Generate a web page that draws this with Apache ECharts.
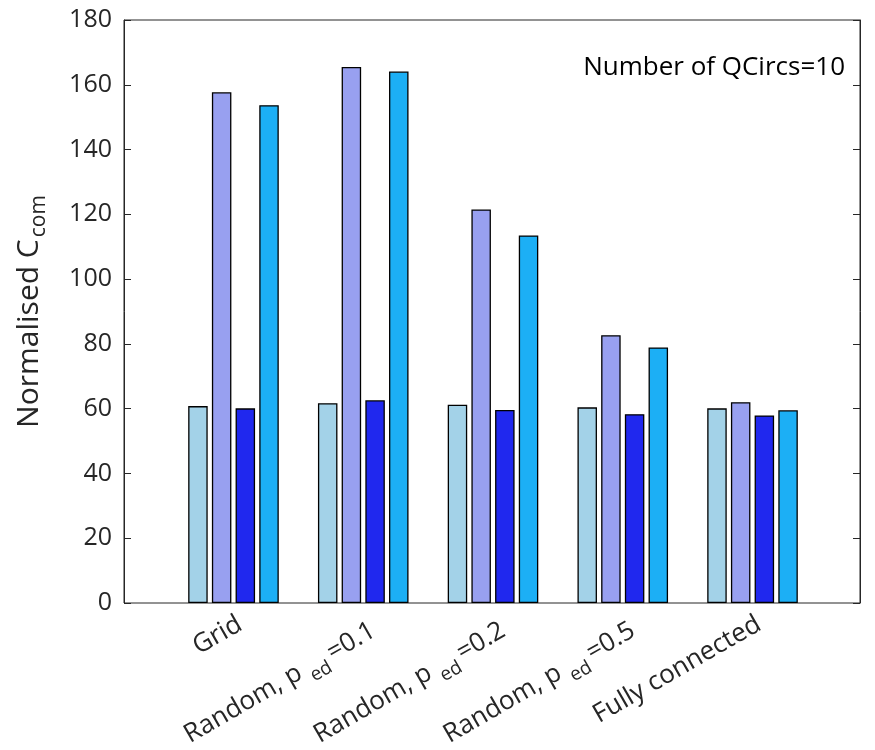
<!DOCTYPE html>
<html><head><meta charset="utf-8">
<script src="https://cdn.jsdelivr.net/npm/echarts@6/dist/echarts.min.js"></script>
<style>html,body{margin:0;padding:0;background:#fff}#c{width:875px;height:750px}</style>
</head><body><div id="c"></div>
<script>
const categories = ['Grid', 'Random, p{sub|ed}=0.1', 'Random, p{sub|ed}=0.2', 'Random, p{sub|ed}=0.5', 'Fully connected'];
const series1 = [60.8, 61.7, 61.2, 60.4, 60.1];
const series2 = [157.7, 165.5, 121.5, 82.7, 62.0];
const series3 = [60.1, 62.6, 59.6, 58.3, 57.9];
const series4 = [153.7, 164.1, 113.5, 78.9, 59.5];
const yTicks = [0, 20, 40, 60, 80, 100, 120, 140, 160, 180];
const annotation = 'Number of QCircs=10';
const yName = 'Normalised C{sub|com}';

const colors = ['#A3D2E8', '#98A0F0', '#2028EE', '#1CAFF5'];
const FONT = 'Open Sans';
const txt = '#262626';

const chart = echarts.init(document.getElementById('c'), null, {renderer: 'canvas'});
const mkBar = (name, data, i) => ({
  name, type: 'bar', data, xAxisIndex: 1, yAxisIndex: 2,
  barWidth: 19.5, barGap: '21.5%',
  itemStyle: {color: colors[i], borderColor: '#000', borderWidth: 1.3},
  silent: true
});
chart.setOption({
  animation: false,
  textStyle: {fontFamily: FONT},
  grid: [
    {left: 124, right: 15, top: 20, bottom: 147, show: true, borderColor: '#262626', borderWidth: 1, outerBoundsMode: 'none', containLabel: false},
    {left: 168.6, right: 57.6, top: 20, bottom: 147, outerBoundsMode: 'none', containLabel: false}
  ],
  xAxis: [
    {type: 'value', gridIndex: 0, min: 0, max: 1, axisLine: {show: false}, axisTick: {show: false}, axisLabel: {show: false}, splitLine: {show: false}},
    {type: 'category', gridIndex: 1, data: categories, boundaryGap: true,
     axisLine: {show: false}, axisTick: {show: false},
     axisLabel: {rotate: 30, margin: 8, interval: 0, fontSize: 26, color: txt, fontFamily: FONT,
       align: 'right', verticalAlign: 'top',
       rich: {sub: {fontSize: 19, color: txt, fontFamily: FONT, padding: [22, 4, 0, 7]}}}}
  ],
  yAxis: [
    {type: 'value', gridIndex: 0, min: 0, max: 180, interval: 20, position: 'left',
     name: yName, nameLocation: 'middle', nameGap: 74, nameRotate: 90,
     nameTextStyle: {fontSize: 30, color: txt, fontFamily: FONT,
       rich: {sub: {fontSize: 21, color: txt, fontFamily: FONT, padding: [20, 0, 0, 2]}}},
     axisLine: {show: true, lineStyle: {color: '#262626', width: 1}},
     axisTick: {show: true, inside: true, length: 7, lineStyle: {color: '#262626'}},
     axisLabel: {fontSize: 25, color: txt, margin: 12, fontFamily: FONT},
     splitLine: {show: false}},
    {type: 'value', gridIndex: 0, min: 0, max: 180, interval: 20, position: 'right',
     axisLine: {show: true, lineStyle: {color: '#262626', width: 1}},
     axisTick: {show: true, inside: true, length: 7, lineStyle: {color: '#262626'}},
     axisLabel: {show: false}, splitLine: {show: false}},
    {type: 'value', gridIndex: 1, min: 0, max: 180, show: false}
  ],
  graphic: [{type: 'text', right: 30, top: 55,
    style: {text: annotation, fontSize: 26, fill: '#000', fontFamily: FONT}}],
  series: [mkBar('s1', series1, 0), mkBar('s2', series2, 1), mkBar('s3', series3, 2), mkBar('s4', series4, 3)]
});
</script></body></html>
